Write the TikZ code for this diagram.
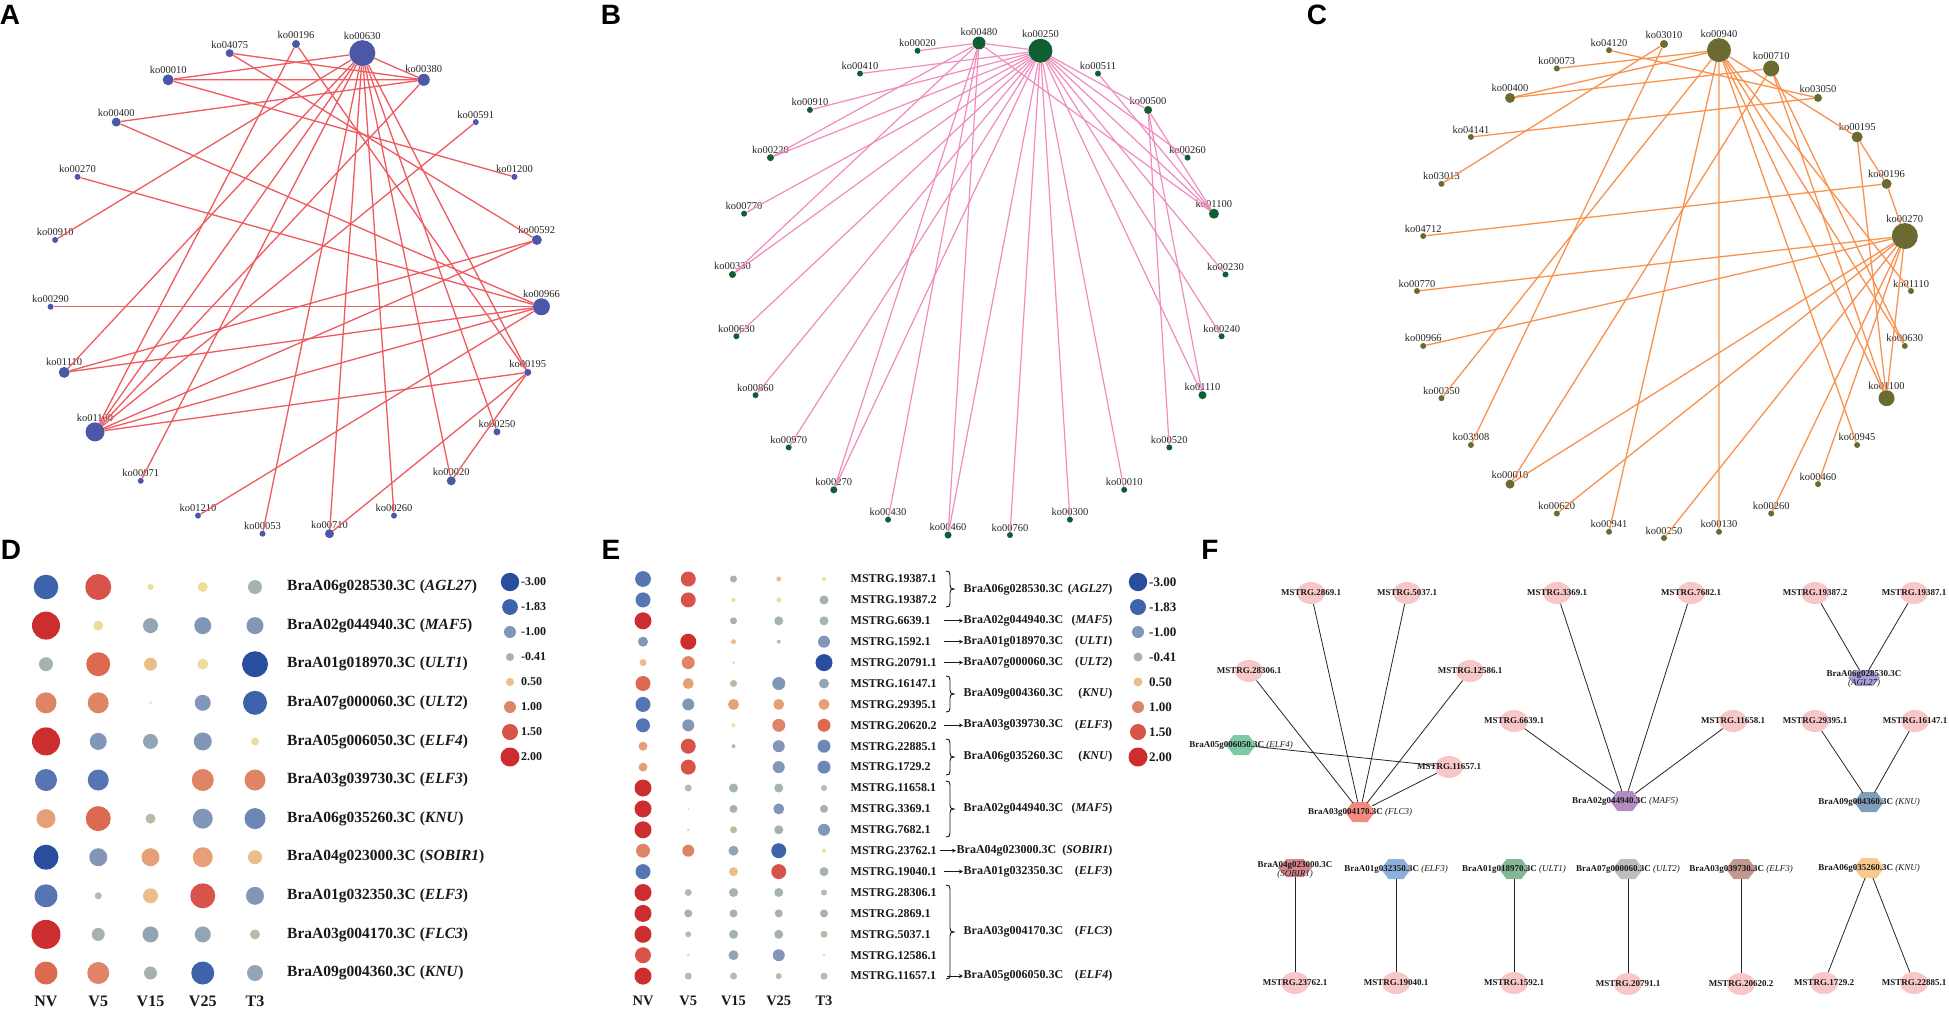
\documentclass[tikz,border=0pt]{standalone}
\usepackage{fontspec}
\setmainfont{Liberation Serif}
\newfontfamily\panelfont{Liberation Sans}
\usetikzlibrary{arrows.meta,shapes.geometric}

\definecolor{adot}{HTML}{4B58A8}
\definecolor{aline}{HTML}{EE5A5F}
\definecolor{bdot}{HTML}{0E6033}
\definecolor{bline}{HTML}{F08CBE}
\definecolor{cdot}{HTML}{6B6A30}
\definecolor{cline}{HTML}{F8924E}
\definecolor{c30}{HTML}{2A4E9E}
\definecolor{c18}{HTML}{3E63AC}
\definecolor{cB1}{HTML}{5675B2}
\definecolor{cB2}{HTML}{6C86B6}
\definecolor{c10}{HTML}{8297B7}
\definecolor{c07}{HTML}{93A5B4}
\definecolor{c04}{HTML}{A5B2AD}
\definecolor{cG}{HTML}{B5BDA7}
\definecolor{cY}{HTML}{EEDC9A}
\definecolor{c05}{HTML}{ECBD86}
\definecolor{c08}{HTML}{E6A077}
\definecolor{c10r}{HTML}{E08466}
\definecolor{c13}{HTML}{DC6A50}
\definecolor{c15}{HTML}{D8544A}
\definecolor{c20}{HTML}{CC2E2F}
\definecolor{fpinkc}{HTML}{F8C7C8}
\definecolor{hFLC}{HTML}{F28A80}
\definecolor{hELFf}{HTML}{7DCBA4}
\definecolor{hMAF}{HTML}{B58CC2}
\definecolor{hAGL}{HTML}{A89CD6}
\definecolor{hKNUn}{HTML}{7E9EB9}
\definecolor{hSOB}{HTML}{D7858B}
\definecolor{hELFa}{HTML}{8DB0DB}
\definecolor{hULTa}{HTML}{84B795}
\definecolor{hULTb}{HTML}{BDBDBD}
\definecolor{hELFb}{HTML}{C39690}
\definecolor{hKNUs}{HTML}{F9CA8D}

\newcommand{\fD}{\fontsize{15.5}{18}\selectfont\bfseries}
\newcommand{\fE}{\fontsize{12}{14}\selectfont\bfseries}
\newcommand{\fF}{\fontsize{9}{10.5}\selectfont\bfseries}

\newcommand{\knA}[3]{\node[kd,fill=adot,minimum size=#3pt,label={[kl]90:ko#1}] (a#1) at ({296+246*sin(#2*360/23)},{290-246*cos(#2*360/23)}) {};}
\newcommand{\knB}[3]{\node[kd,fill=bdot,minimum size=#3pt,label={[kl]90:ko#1}] (b#1) at ({979+247*sin(#2*14.4)},{290-247*cos(#2*14.4)}) {};}
\newcommand{\knC}[3]{\node[kd,fill=cdot,minimum size=#3pt,label={[kl]90:ko#1}] (c#1) at ({1664+247*sin(#2*360/28)},{291-247*cos(#2*360/28)}) {};}
\newcommand{\drow}[2]{\foreach \bR/\bC [count=\i] in {#2} {\fill[\bC] ({46+52.25*(\i-1)},#1) circle (\bR pt);}}
\newcommand{\erow}[2]{\foreach \bR/\bC [count=\i] in {#2} {\fill[\bC] ({643+45.25*(\i-1)},{579+20.9*(#1-1)}) circle (\bR pt);}}
\newcommand{\rbr}[3]{\draw[bracep] (#1,#2) .. controls ({#1+3},#2) and ({#1+4},{#2+1}) .. ({#1+4},{#2+4}) -- ({#1+4},{(#2+#3)/2-4}) .. controls ({#1+4},{(#2+#3)/2-1}) and ({#1+5},{(#2+#3)/2}) .. ({#1+8},{(#2+#3)/2}) .. controls ({#1+5},{(#2+#3)/2}) and ({#1+4},{(#2+#3)/2+1}) .. ({#1+4},{(#2+#3)/2+4}) -- ({#1+4},{#3-4}) .. controls ({#1+4},{#3-1}) and ({#1+3},#3) .. (#1,#3);}
\newcommand{\hexn}[6]{\fill[#4] ({#2-#5},#3) -- ({#2-#5/2},{#3-#6}) -- ({#2+#5/2},{#3-#6}) -- ({#2+#5},#3) -- ({#2+#5/2},{#3+#6}) -- ({#2-#5/2},{#3+#6}) -- cycle;
\node[hexbox,minimum width={2*#5 pt},minimum height={2*#6 pt}] (#1) at (#2,#3) {};}
\newcommand{\mnode}[4]{\node[fpink] (#1) at (#2,#3) {};\node[ftxt] (#1t) at (#2,#3) {MSTRG.#4};}

\begin{document}
\begin{tikzpicture}[x=1pt,y=-1pt,
  kd/.style={circle,inner sep=0pt,draw=none,label distance=-0.5pt},
  kl/.style={font=\fontsize{10.5}{12}\selectfont,inner sep=0.5pt,text=black!85},
  aedge/.style={draw=aline,line width=1.3pt},
  bedge/.style={draw=bline,line width=1.2pt},
  cedge/.style={draw=cline,line width=1.3pt},
  plab/.style={font={\panelfont\bfseries\fontsize{28}{30}\selectfont},inner sep=0pt},
  dtxt/.style={font=\fD,inner sep=0pt,anchor=west,text=black!90},
  dcol/.style={font={\fontsize{16}{18}\selectfont\bfseries},inner sep=0pt,text=black!90},
  dleg/.style={font={\fontsize{12}{14}\selectfont\bfseries},inner sep=0pt,anchor=west,text=black!90},
  etxt/.style={font=\fE,inner sep=0.5pt,text=black!90},
  ecol/.style={font={\fontsize{14.5}{16}\selectfont\bfseries},inner sep=0pt,text=black!90},
  eleg/.style={font={\fontsize{13}{15}\selectfont\bfseries},inner sep=0pt,anchor=west,text=black!90},
  bracep/.style={draw=black!90,line width=0.9pt},
  earrow/.style={draw=black!90,line width=0.9pt,-{Stealth[length=4pt,width=4pt]}},
  fpink/.style={ellipse,fill=fpinkc,draw=none,minimum width=28pt,minimum height=22pt,inner sep=0pt},
  hexbox/.style={ellipse,draw=none,inner sep=0pt},
  ftxt/.style={font=\fF,inner sep=0pt,text=black!90,align=center},
  fedge/.style={draw=black!85,line width=0.8pt}
]
\fill[white] (0,0) rectangle (1949,1009);
\useasboundingbox (0,0) rectangle (1949,1009);

% panel letters
\node[plab] (pA) at (10,15) {A};
\node[plab] (pB) at (611,15) {B};
\node[plab] (pC) at (1317,15) {C};
\node[plab] (pD) at (11,550) {D};
\node[plab] (pE) at (611,550) {E};
\node[plab] (pF) at (1210,550) {F};

% ---------------- Panel A
\foreach \n/\k/\d in {00196/0/8,00630/1/26,00380/2/12,00591/3/6,01200/4/6,00592/5/10,00966/6/17,00195/7/7,00250/8/7,00020/9/9,00260/10/6,00710/11/9,00053/12/6,01210/13/6,00071/14/6,01100/15/19,01110/16/11,00290/17/6,00910/18/6,00270/19/6,00400/20/9,00010/21/11,04075/22/8}
  {\knA{\n}{\k}{\d}}
\foreach \t in {00010,00380,00910,01110,01100,00071,00053,00710,00260,00020,00250,00195}
  \draw[aedge] (a00630) -- (a\t);
\foreach \s/\t in {04075/00380,04075/00592,00010/00380,00010/01200,00196/01100,00196/00195,00400/00380,00400/00966,00270/00966,00290/00966,01110/00592,01110/00966,01100/00380,01100/00591,01100/00592,01100/00966,01100/00195,01210/00966,00710/00195,00020/00195}
  \draw[aedge] (a\s) -- (a\t);

% ---------------- Panel B
\foreach \n/\k/\d in {00480/0/13,00250/1/24,00511/2/6,00500/3/8,00260/4/6,01100/5/10,00230/6/6,00240/7/6,01110/8/8,00520/9/6,00010/10/6,00300/11/6,00760/12/6,00460/13/7,00430/14/6,00270/15/7,00970/16/6,00860/17/6,00630/18/6,00330/19/7,00770/20/6,00220/21/7,00910/22/6,00410/23/6,00020/24/6}
  {\knB{\n}{\k}{\d}}
\foreach \t in {00480,00410,00910,00220,00770,00330,00630,00860,00970,00270,00460,00760,00300,00010,01110,00240,00230,01100,00260,00500}
  \draw[bedge] (b00250) -- (b\t);
\foreach \t in {00020,00220,00330,00270,00430,00460,01100}
  \draw[bedge] (b00480) -- (b\t);
\foreach \s/\t in {00500/00520,00500/01110,00500/01100,00511/01100}
  \draw[bedge] (b\s) -- (b\t);

% ---------------- Panel C
\foreach \n/\k/\d in {03010/0/8,00940/1/24,00710/2/16,03050/3/8,00195/4/11,00196/5/10,00270/6/26,01110/7/6,00630/8/6,01100/9/16,00945/10/6,00460/11/6,00260/12/6,00130/13/6,00250/14/6,00941/15/6,00620/16/6,00010/17/9,03008/18/6,00350/19/6,00966/20/6,00770/21/6,04712/22/6,03013/23/6,04141/24/6,00400/25/10,00073/26/6,04120/27/6}
  {\knC{\n}{\k}{\d}}
\foreach \t in {00073,00400,00350,00941,00130,00945,01100,01110,00630,00195}
  \draw[cedge] (c00940) -- (c\t);
\foreach \t in {00770,00966,00010,00620,00250,00260,00460,01100}
  \draw[cedge] (c00270) -- (c\t);
\foreach \s/\t in {00710/00400,00710/00010,00710/01100,00710/00630,03010/03013,03010/03008,04120/03050,04141/03050,04712/00196,00195/00196,00195/01100,00196/00270}
  \draw[cedge] (c\s) -- (c\t);

% ---------------- Panel D
\drow{587}{12.3/c18, 13/c15, 3/cY, 5/cY, 7/c04}
\drow{625.6}{14/c20, 5/cY, 7.5/c07, 8.5/c10, 8.5/c10}
\drow{664.2}{7/c04, 12/c13, 6.5/c05, 5.5/cY, 13/c30}
\drow{702.8}{10.5/c10r, 10.5/c10r, 1.5/cY, 8/c10, 12/c18}
\drow{741.4}{14/c20, 8.5/c10, 7.5/c07, 9/c10, 4/cY}
\drow{780}{11/cB1, 10.5/cB1, 0.5/cY, 11/c10r, 10.5/c10r}
\drow{818.6}{9.5/c08, 12.5/c13, 5/cG, 10/c10, 10.5/cB2}
\drow{857.2}{12.5/c30, 9/c10, 9/c08, 10/c08, 7/c05}
\drow{895.8}{11.5/cB1, 3.5/cG, 7.5/c05, 12.5/c15, 9/c10}
\drow{934.4}{14.5/c20, 6.5/c04, 8/c07, 8/c07, 5/cG}
\drow{973}{11.5/c13, 11/c10r, 6.5/c04, 11.5/c18, 8/c07}
\foreach \g/\n [count=\i] in {BraA06g028530.3C/AGL27,BraA02g044940.3C/MAF5,BraA01g018970.3C/ULT1,BraA07g000060.3C/ULT2,BraA05g006050.3C/ELF4,BraA03g039730.3C/ELF3,BraA06g035260.3C/KNU,BraA04g023000.3C/SOBIR1,BraA01g032350.3C/ELF3,BraA03g004170.3C/FLC3,BraA09g004360.3C/KNU}
  \node[dtxt] (dg\i) at (287,{587+38.6*(\i-1)}) {\g{} (\textit{\n})};
\foreach \c [count=\i] in {NV,V5,V15,V25,T3}
  \node[dcol] (dc\i) at ({46+52.25*(\i-1)},1001) {\c};
\foreach \v/\bR/\bC [count=\i] in {-3.00/9.2/c30,-1.83/7.9/c18,-1.00/6/c10,-0.41/4/c04,0.50/4/c05,1.00/6/c10r,1.50/8/c15,2.00/9.5/c20}
  {\fill[\bC] (510,{582+25*(\i-1)}) circle (\bR pt);
   \node[dleg] (dl\i) at (521,{582+25*(\i-1)}) {\v};}

% ---------------- Panel E
\erow{1}{7.9/cB1, 7.5/c15, 3.5/c04, 2.5/c05, 2/cY}
\erow{2}{7.5/cB1, 7.5/c15, 2/cY, 2.5/cY, 4.5/c04}
\erow{3}{8.5/c20, 0/white, 3.5/c04, 4.5/c04, 4.5/c04}
\erow{4}{5/c10, 8/c20, 2.5/c05, 2/cG, 6/c10}
\erow{5}{3.5/c05, 6.5/c10r, 1.5/cY, 0/white, 8.5/c30}
\erow{6}{7.5/c13, 5.5/c08, 3.5/cG, 6.5/c10, 5/c07}
\erow{7}{7.5/cB1, 6/c10, 5.5/c08, 5.5/c08, 5.5/c08}
\erow{8}{7/cB1, 6/c10, 2/cY, 6.5/c10r, 6.5/c13}
\erow{9}{4.5/c08, 7.5/c15, 2/cG, 6/c10, 6.5/cB2}
\erow{10}{4.5/c08, 7.5/c15, 0/white, 6/c10, 6.5/cB2}
\erow{11}{8.5/c20, 3.5/cG, 4.5/c04, 4.5/c04, 3/cG}
\erow{12}{8.5/c20, 1/cY, 4/c04, 5.5/c10, 4/c04}
\erow{13}{8.5/c20, 1.5/cY, 3.5/cG, 4.5/c04, 6/c10}
\erow{14}{7/c10r, 6/c10r, 5/c07, 7.5/c18, 2/cY}
\erow{15}{7.5/cB1, 0.5/cY, 4.5/c05, 7.5/c15, 4.5/c04}
\erow{16}{8.5/c20, 3.5/cG, 4.5/c04, 4.5/c04, 3/cG}
\erow{17}{8.5/c20, 4/c04, 4/c04, 4/c04, 4/c04}
\erow{18}{8.5/c20, 3/cG, 4.5/c04, 4.5/c04, 3.5/cG}
\erow{19}{8/c15, 1.5/cY, 5/c07, 6/c10, 1.5/cY}
\erow{20}{8.5/c20, 3.5/cG, 3.5/cG, 3/cG, 3.5/cG}
\foreach \t [count=\i] in {19387.1,19387.2,6639.1,1592.1,20791.1,16147.1,29395.1,20620.2,22885.1,1729.2,11658.1,3369.1,7682.1,23762.1,19040.1,28306.1,2869.1,5037.1,12586.1,11657.1}
  \node[etxt,anchor=west] (em\i) at (850,{579+20.9*(\i-1)}) {MSTRG.\t};
\foreach \j/\y/\g/\n/\xs in {1/589.5/BraA06g028530.3C/AGL27/963,3/620.8/BraA02g044940.3C/MAF5/963,4/641.7/BraA01g018970.3C/ULT1/963,5/662.6/BraA07g000060.3C/ULT2/963,6/694/BraA09g004360.3C/KNU/963,8/725.3/BraA03g039730.3C/ELF3/963,9/756.6/BraA06g035260.3C/KNU/963,11/808.9/BraA02g044940.3C/MAF5/963,14/850.7/BraA04g023000.3C/SOBIR1/956,15/871.6/BraA01g032350.3C/ELF3/963,16/932/BraA03g004170.3C/FLC3/963,20/976.1/BraA05g006050.3C/ELF4/963}
  {\node[etxt,anchor=west] (eg\j) at (\xs,\y) {\g};
   \node[etxt,anchor=east] (en\j) at (1113,\y) {(\textit{\n})};}
\rbr{946}{571}{607}
\rbr{946}{676}{712}
\rbr{946}{739}{775}
\rbr{946}{781}{837}
\rbr{946}{885}{979}
\foreach \j/\y/\xs in {3/620.8/944,4/641.7/944,5/662.6/944,8/725.3/944,14/850.7/940,15/871.6/944,20/976.1/947}
  {\coordinate (ea\j) at (\xs,\y);
   \draw[earrow] (ea\j) -- (eg\j.west);}
\foreach \c [count=\i] in {NV,V5,V15,V25,T3}
  \node[ecol] (ec\i) at ({643+45.25*(\i-1)},1001) {\c};
\foreach \v/\bR/\bC [count=\i] in {-3.00/9.2/c30,-1.83/8/c18,-1.00/6/c10,-0.41/4.5/c04,0.50/4.5/c05,1.00/6/c10r,1.50/8/c15,2.00/9.5/c20}
  {\fill[\bC] (1138,{582+25*(\i-1)}) circle (\bR pt);
   \node[eleg] (el\i) at (1149,{582+25*(\i-1)}) {\v};}

% ---------------- Panel F
\mnode{f2869}{1311}{593}{2869.1}
\mnode{f5037}{1407}{593}{5037.1}
\mnode{f3369}{1557}{593}{3369.1}
\mnode{f7682}{1691}{593}{7682.1}
\mnode{f19387b}{1815}{593}{19387.2}
\mnode{f19387a}{1914}{593}{19387.1}
\mnode{f28306}{1249}{671}{28306.1}
\mnode{f12586}{1470}{671}{12586.1}
\mnode{f6639}{1514}{721}{6639.1}
\mnode{f11658}{1733}{721}{11658.1}
\mnode{f29395}{1815}{721}{29395.1}
\mnode{f16147}{1915}{721}{16147.1}
\mnode{f11657}{1449}{767}{11657.1}
\mnode{f23762}{1295}{983}{23762.1}
\mnode{f19040}{1396}{983}{19040.1}
\mnode{f1592}{1514}{983}{1592.1}
\mnode{f20791}{1628}{984}{20791.1}
\mnode{f20620}{1741}{984}{20620.2}
\mnode{f1729}{1824}{983}{1729.2}
\mnode{f22885}{1914}{983}{22885.1}

\hexn{hFLC3}{1360}{812}{hFLC}{15}{10}
\hexn{hELF4}{1241}{745}{hELFf}{15}{10}
\hexn{hMAF5}{1625}{801}{hMAF}{15}{10}
\hexn{hAGL27}{1864}{678}{hAGL}{16}{8}
\hexn{hKNU9}{1869}{802}{hKNUn}{15}{10}
\hexn{hSOBIR1}{1295}{868}{hSOB}{17}{9}
\hexn{hELF3a}{1396}{869}{hELFa}{15}{10}
\hexn{hULT1}{1514}{869}{hULTa}{15}{10}
\hexn{hULT2}{1628}{869}{hULTb}{15}{10}
\hexn{hELF3b}{1741}{869}{hELFb}{15}{10}
\hexn{hKNU6}{1869}{868}{hKNUs}{15}{10}

\foreach \s in {f28306,f2869,f5037,f12586,f11657} \draw[fedge] (\s) -- (hFLC3);
\draw[fedge] (f11657) -- (hELF4);
\foreach \s in {f6639,f3369,f7682,f11658} \draw[fedge] (\s) -- (hMAF5);
\foreach \s in {f19387b,f19387a} \draw[fedge] (\s) -- (hAGL27);
\foreach \s in {f29395,f16147} \draw[fedge] (\s) -- (hKNU9);
\draw[fedge] (f23762) -- (hSOBIR1);
\draw[fedge] (f19040) -- (hELF3a);
\draw[fedge] (f1592) -- (hULT1);
\draw[fedge] (f20791) -- (hULT2);
\draw[fedge] (f20620) -- (hELF3b);
\draw[fedge] (f1729) -- (hKNU6);
\draw[fedge] (f22885) -- (hKNU6);

\node[ftxt] (tFLC3) at (1360,812) {BraA03g004170.3C {\mdseries\itshape (FLC3)}};
\node[ftxt] (tELF4) at (1241,745) {BraA05g006050.3C {\mdseries\itshape (ELF4)}};
\node[ftxt] (tMAF5) at (1625,801) {BraA02g044940.3C {\mdseries\itshape (MAF5)}};
\node[ftxt] (tAGL27) at (1864,679) {BraA06g028530.3C\\[-1pt]{\mdseries\itshape (AGL27)}};
\node[ftxt] (tKNU9) at (1869,802) {BraA09g004360.3C {\mdseries\itshape (KNU)}};
\node[ftxt] (tSOBIR1) at (1295,870) {BraA04g023000.3C\\[-1pt]{\mdseries\itshape (SOBIR1)}};
\node[ftxt] (tELF3a) at (1396,869) {BraA01g032350.3C {\mdseries\itshape (ELF3)}};
\node[ftxt] (tULT1) at (1514,869) {BraA01g018970.3C {\mdseries\itshape (ULT1)}};
\node[ftxt] (tULT2) at (1628,869) {BraA07g000060.3C {\mdseries\itshape (ULT2)}};
\node[ftxt] (tELF3b) at (1741,869) {BraA03g039730.3C {\mdseries\itshape (ELF3)}};
\node[ftxt] (tKNU6) at (1869,868) {BraA06g035260.3C {\mdseries\itshape (KNU)}};
\end{tikzpicture}
\end{document}
